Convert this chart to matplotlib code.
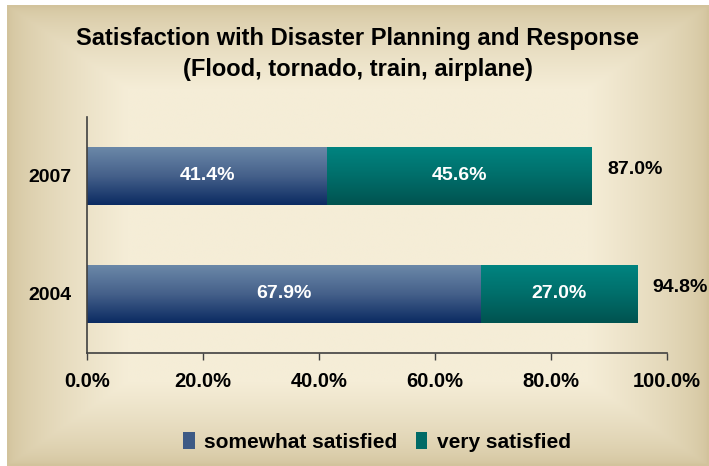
import numpy as np
import matplotlib
matplotlib.use("Agg")
import matplotlib.pyplot as plt
from matplotlib import font_manager
from matplotlib.colors import LinearSegmentedColormap
from matplotlib.patches import Patch

# ---- data ----
years = ["2004", "2007"]
somewhat = [67.9, 41.4]
very = [27.0, 45.6]
totals = [94.8, 87.0]
xticks = [0, 20, 40, 60, 80, 100]
xticklabels = ["0.0%", "20.0%", "40.0%", "60.0%", "80.0%", "100.0%"]
series_names = ["somewhat satisfied", "very satisfied"]
title = "Satisfaction with Disaster Planning and Response\n(Flood, tornado, train, airplane)"

names = {f.name for f in font_manager.fontManager.ttflist}
narrow = "Liberation Sans Narrow" if "Liberation Sans Narrow" in names else "Liberation Sans"
plt.rcParams["font.family"] = [narrow, "DejaVu Sans"]
plt.rcParams["font.weight"] = "bold"

W, H = 709, 466
fig = plt.figure(figsize=(W / 100, H / 100), dpi=100)
fig.patch.set_facecolor("white")

# background gradient panel
bg = fig.add_axes([7 / W, 0, (W - 7) / W, (H - 5) / H])
bg.set_axis_off()
ny, nx = 200, 300
yy, xx = np.mgrid[0:ny, 0:nx]
u = xx / (nx - 1)
v = yy / (ny - 1)
dx = np.minimum(u, 1 - u) / 0.17
dy = np.minimum(v, 1 - v) / 0.18
t = np.clip(np.minimum(dx, dy), 0, 1)
t = np.sqrt(t) * 0.6 + t * 0.4
edge = np.array([210, 195, 156]) / 255
inner = np.array([245, 237, 215]) / 255
img = edge[None, None, :] * (1 - t[..., None]) + inner[None, None, :] * t[..., None]
bg.imshow(img, aspect="auto", extent=[0, 1, 0, 1], interpolation="bilinear")
bg.set_xlim(0, 1)
bg.set_ylim(0, 1)

ax = fig.add_axes([87 / W, (H - 353) / H, (667 - 87) / W, (353 - 117) / H])
ax.patch.set_alpha(0)

y = np.arange(len(years))
h = 0.485
cm_blue = LinearSegmentedColormap.from_list("b", ["#6b88a8", "#45608a", "#0b2b62"])
cm_teal = LinearSegmentedColormap.from_list("t", ["#008480", "#006e6a", "#005350"])

b1 = ax.barh(y, somewhat, height=h, color="#3d5a85", edgecolor="none")
b2 = ax.barh(y, very, left=somewhat, height=h, color="#006a66", edgecolor="none")

grad = np.linspace(0, 1, 100).reshape(-1, 1)
for bars, cm in ((b1, cm_blue), (b2, cm_teal)):
    for p in bars:
        x0, y0 = p.get_x(), p.get_y()
        im = ax.imshow(grad, cmap=cm, aspect="auto",
                       extent=[x0, x0 + p.get_width(), y0, y0 + p.get_height()],
                       origin="upper", zorder=p.get_zorder() + 0.1,
                       interpolation="bilinear")
        im.set_clip_path(p)

for i in range(len(years)):
    ax.text(somewhat[i] / 2, y[i], f"{somewhat[i]:.1f}%", ha="center", va="center",
            color="white", fontsize=14, fontweight="bold", zorder=5)
    ax.text(somewhat[i] + very[i] / 2, y[i], f"{very[i]:.1f}%", ha="center", va="center",
            color="white", fontsize=14, fontweight="bold", zorder=5)
    ax.annotate(f"{totals[i]:.1f}%", xy=(totals[i], y[i]), xytext=(11, 4.5),
                textcoords="offset points", ha="left", va="center",
                color="black", fontsize=14, fontweight="bold")

ax.set_xlim(0, 100)
ax.set_ylim(-0.5, 1.5)
ax.set_xticks(xticks)
ax.set_xticklabels(xticklabels, fontsize=14.5, fontweight="bold")
ax.set_yticks(y)
ax.set_yticklabels(years, fontsize=14, fontweight="bold")
ax.tick_params(axis="y", length=0, pad=11)
ax.tick_params(axis="x", length=5, width=1, color="#404040", pad=9, direction="out")
for s in ("top", "right"):
    ax.spines[s].set_visible(False)
for s in ("left", "bottom"):
    ax.spines[s].set_color("#404040")
    ax.spines[s].set_linewidth(1.2)

fig.text(358 / W, 1 - 54 / H, title, ha="center", va="center", fontsize=17,
         fontweight="bold", linespacing=1.45)

handles = [Patch(facecolor="#3d5a85"), Patch(facecolor="#006a66")]
fig.legend(handles, series_names, loc="center", bbox_to_anchor=(377 / W, 1 - 442 / H),
           ncol=2, frameon=False, handlelength=0.55, handleheight=0.85,
           handletextpad=0.45, columnspacing=0.9,
           prop={"family": ["Liberation Sans", "DejaVu Sans"], "weight": "bold", "size": 15})

fig.savefig("out.png", dpi=100)
